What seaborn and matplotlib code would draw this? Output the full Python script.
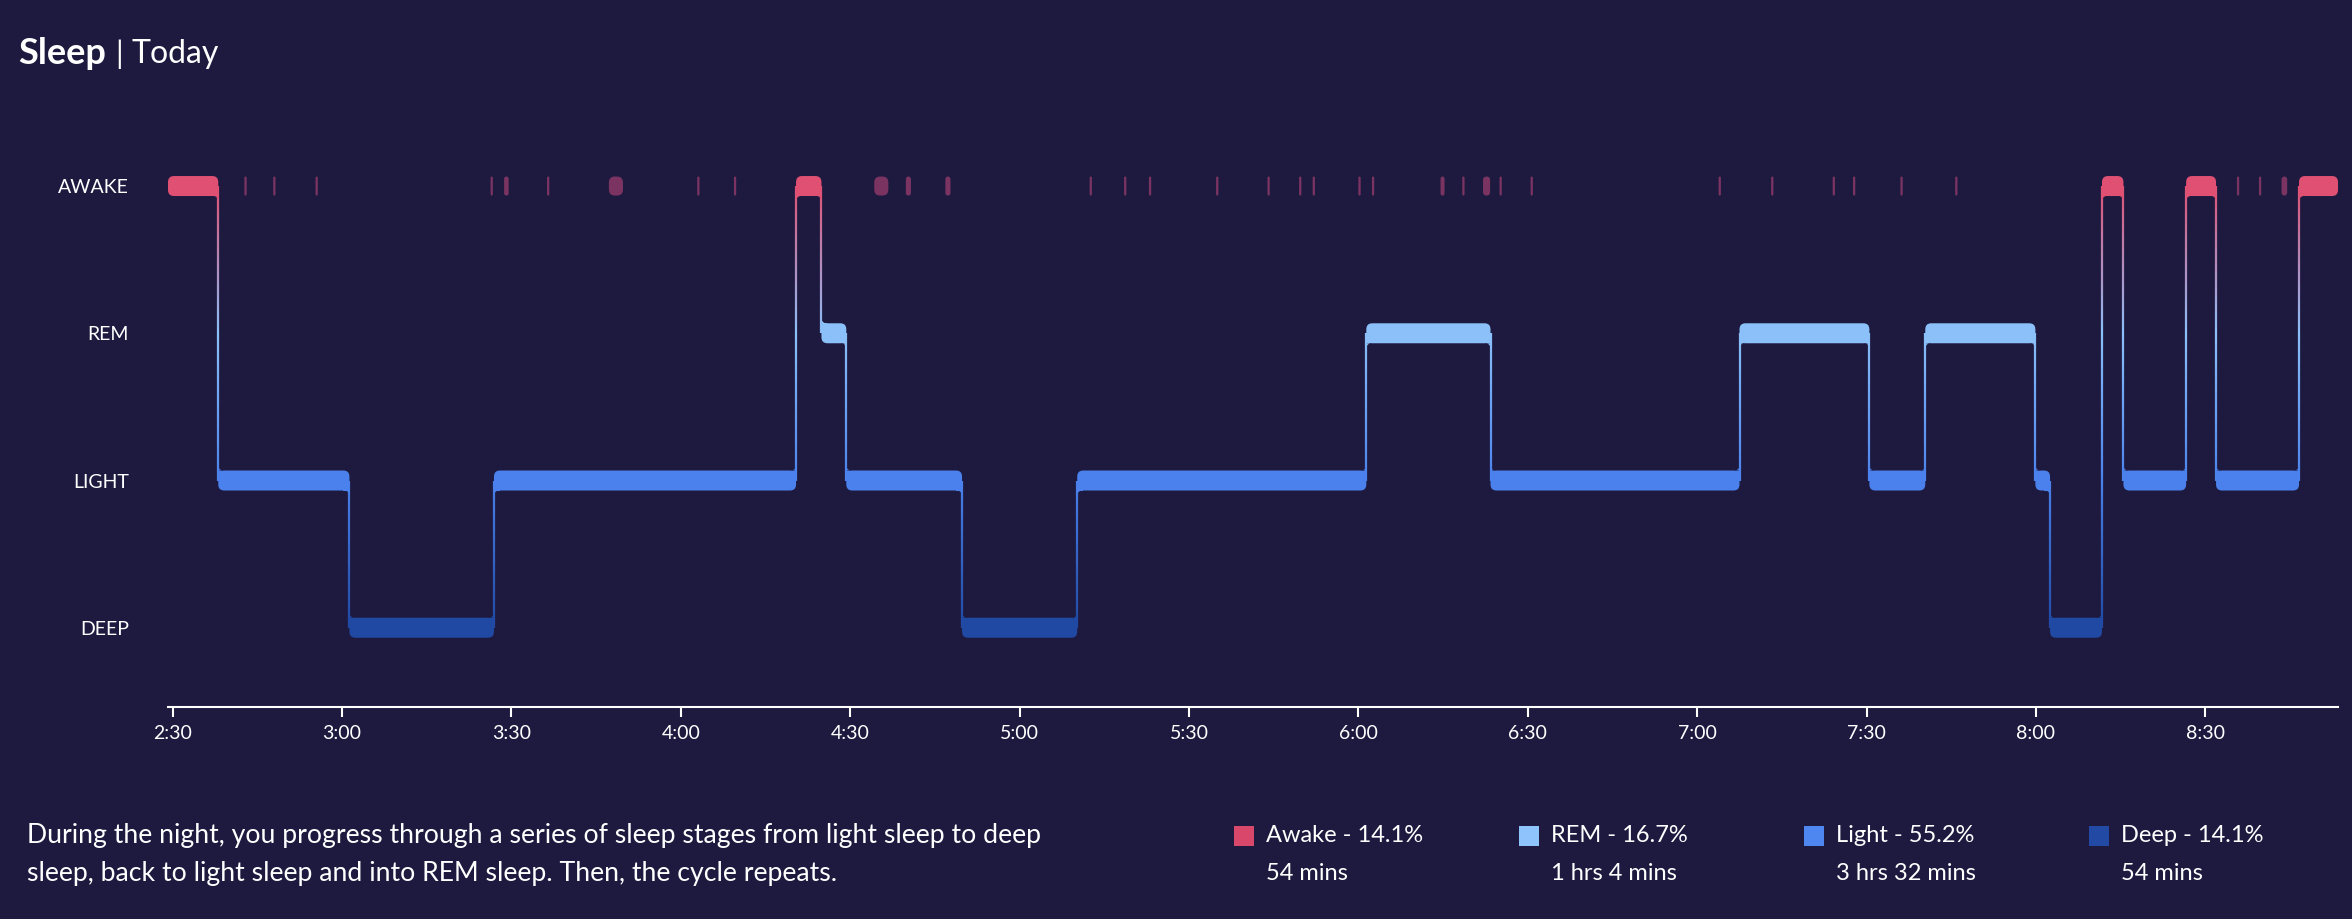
import numpy as np
import pandas as pd
import matplotlib
matplotlib.use("Agg")
import matplotlib.pyplot as plt
from matplotlib.patches import FancyBboxPatch, Rectangle, Polygon
from matplotlib.collections import LineCollection
import seaborn as sns

# Colores del tema
BG = "#1E1A3F"
sns.set_theme(style="dark", rc={"axes.facecolor": BG, "figure.facecolor": BG,
                                 "savefig.facecolor": BG, "axes.grid": False})
plt.rcParams["font.family"] = ["Lato", "DejaVu Sans"]

# Etapas y colores
stage_names = ["DEEP", "LIGHT", "REM", "AWAKE"]
stage_colors = ["#2049A3", "#4A81EC", "#8BC0F9", "#DF5073"]
wake_tick_color = "#7B3462"

# Segmentos principales (hora de inicio de cada etapa)
seg_stage = ["AWAKE", "LIGHT", "DEEP", "LIGHT", "AWAKE", "REM", "LIGHT", "DEEP",
             "LIGHT", "REM", "LIGHT", "REM", "LIGHT", "REM", "LIGHT", "DEEP",
             "AWAKE", "LIGHT", "AWAKE", "LIGHT", "AWAKE"]
seg_start = ["2:29:10", "2:38:04", "3:01:18", "3:26:54", "4:20:24", "4:24:54",
             "4:29:18", "4:49:48", "5:10:12", "6:01:24", "6:23:24", "7:07:30",
             "7:30:30", "7:40:24", "7:59:54", "8:02:30", "8:11:42", "8:15:30",
             "8:26:36", "8:31:54", "8:46:36"]
seg_end = "8:53:30"

# Despertares cortos (centro y duracion en minutos)
wake_mid = ["2:42:54", "2:48:00", "2:55:30", "3:26:30", "3:29:06", "3:36:30",
            "3:48:30", "4:03:06", "4:09:36", "4:35:30", "4:40:18", "4:47:18",
            "5:12:36", "5:18:42", "5:23:06", "5:35:00", "5:44:06", "5:49:42",
            "5:52:06", "6:00:12", "6:02:36", "6:14:54", "6:18:36", "6:22:42",
            "6:25:12", "6:30:42", "7:04:00", "7:13:18", "7:24:12", "7:27:48",
            "7:36:12", "7:45:54", "8:35:48", "8:39:42", "8:44:00"]
wake_len = [0.4, 0.4, 0.4, 0.4, 0.8, 0.4, 2.5, 0.4, 0.4, 2.5, 0.9, 0.9,
            0.4, 0.4, 0.4, 0.4, 0.4, 0.4, 0.4, 0.4, 0.4, 0.7, 0.4, 1.25,
            0.4, 0.4, 0.4, 0.4, 0.4, 0.4, 0.4, 0.4, 0.4, 0.4, 1.0]

# Resumen (leyenda)
legend_labels = ["Awake - 14.1%", "REM - 16.7%", "Light - 55.2%", "Deep - 14.1%"]
legend_durations = ["54 mins", "1 hrs 4 mins", "3 hrs 32 mins", "54 mins"]
legend_colors = ["#D9486B", "#8EC4FB", "#4D87EF", "#2249A3"]

tick_times = ["2:30", "3:00", "3:30", "4:00", "4:30", "5:00", "5:30",
              "6:00", "6:30", "7:00", "7:30", "8:00", "8:30"]

description = ["During the night, you progress through a series of sleep stages from light sleep to deep",
               "sleep, back to light sleep and into REM sleep. Then, the cycle repeats."]


def to_min(s):
    parts = [int(p) for p in s.split(":")]
    while len(parts) < 3:
        parts.append(0)
    return parts[0] * 60 + parts[1] + parts[2] / 60


level = {name: i for i, name in enumerate(stage_names)}
color = dict(zip(stage_names, stage_colors))

df = pd.DataFrame({"stage": seg_stage, "start": [to_min(s) for s in seg_start]})
df["end"] = list(df["start"].iloc[1:]) + [to_min(seg_end)]
df["level"] = df["stage"].map(level)

W, H = 2352, 919
fig = plt.figure(figsize=(W / 100, H / 100), dpi=100)
ax = fig.add_axes([168 / W, 0.2312, (2338 - 168) / W, 0.6625])
ax.set_xlim(df["start"].min(), df["end"].max())
ax.set_ylim(-0.535, 3.6)

# escala px por unidad para redondear esquinas
px_x = (ax.transData.transform((1, 0)) - ax.transData.transform((0, 0)))[0]
px_y = (ax.transData.transform((0, 1)) - ax.transData.transform((0, 0)))[1]
asp = px_x / px_y
hh = 10 / px_y
radius = 6 / px_x
fil_x, fil_y = 5 / px_x, 5 / px_y

# degradado continuo entre etapas (DEEP -> AWAKE)
grad = sns.blend_palette(stage_colors, 301)


def grad_color(y):
    return grad[int(round(np.clip(y, 0, 3) / 3 * 300))]


def rounded_bar(x0, x1, y, half, fc, z=3):
    w = x1 - x0
    r = min(radius, w / 2, (2 * half / asp) / 2)
    p = FancyBboxPatch((x0, y - half), w, 2 * half,
                       boxstyle=f"round,pad=0,rounding_size={r}",
                       mutation_aspect=asp, fc=fc, ec="none", zorder=z)
    ax.add_patch(p)


def joint(x_edge, y_edge, dx, dy, fc):
    # esquina recta dentro de la barra + curva concava hacia el conector
    ax.add_patch(Rectangle((x_edge, y_edge), dx * radius, -dy * 6 / px_y,
                           fc=fc, ec="none", zorder=3))
    phi = np.linspace(0, np.pi / 2, 20)
    cx, cy = x_edge + dx * fil_x, y_edge + dy * fil_y
    arc = np.column_stack([cx - dx * fil_x * np.sin(phi), cy - dy * fil_y * np.cos(phi)])
    pts = np.vstack([[x_edge, y_edge], arc])
    ax.add_patch(Polygon(pts, closed=True, fc=fc, ec="none", zorder=3))


# barras de cada etapa
for _, row in df.iterrows():
    rounded_bar(row["start"], row["end"], row["level"], hh, color[row["stage"]])

# conectores verticales con degradado
for i in range(len(df) - 1):
    t = df["end"].iloc[i]
    a, b = df["level"].iloc[i], df["level"].iloc[i + 1]
    ys = np.linspace(a, b, 120)
    segs = [[(t, ys[k]), (t, ys[k + 1])] for k in range(len(ys) - 1)]
    cols = [grad_color((ys[k] + ys[k + 1]) / 2) for k in range(len(ys) - 1)]
    ax.add_collection(LineCollection(segs, colors=cols, linewidths=1.6,
                                     zorder=2, capstyle="butt"))
    d = 1 if b > a else -1
    joint(t, a + d * hh, -1, d, color[df["stage"].iloc[i]])
    joint(t, b - d * hh, 1, -d, color[df["stage"].iloc[i + 1]])

# despertares cortos
for m, d in zip(wake_mid, wake_len):
    c = to_min(m)
    rounded_bar(c - d / 2, c + d / 2, level["AWAKE"], 0.95 * hh, wake_tick_color, z=1)

# ejes
ax.set_yticks(range(len(stage_names)))
ax.set_yticklabels(stage_names)
ax.set_xticks([to_min(t) for t in tick_times])
ax.set_xticklabels(tick_times)
ax.tick_params(axis="y", length=0, pad=28, labelsize=14, labelcolor="white")
ax.tick_params(axis="x", bottom=True, length=7, width=1.5, color="white",
               pad=6, labelsize=14, labelcolor="white")
sns.despine(ax=ax, left=True, top=True, right=True)
ax.spines["bottom"].set_color("white")
ax.spines["bottom"].set_linewidth(1.5)

# titulo
fig.text(18 / W, 1 - 54 / H, "Sleep", fontsize=26, fontweight="bold",
         color="white", va="center")
fig.text(115 / W, 1 - 54 / H, "|", fontsize=22, color="white", va="center")
fig.text(132 / W, 1 - 54 / H, "Today", fontsize=23, color="white", va="center")

# texto descriptivo
for k, line in enumerate(description):
    fig.text(27 / W, 1 - (835 + 39 * k) / H, line, fontsize=19.2,
             color="white", va="center")

# leyenda
sq_x = [1234, 1519, 1804, 2089]
for k in range(len(legend_labels)):
    fig.add_artist(Rectangle((sq_x[k] / W, 1 - 846 / H), 20 / W, 20 / H,
                             transform=fig.transFigure, fc=legend_colors[k], ec="none"))
    fig.text((sq_x[k] + 32) / W, 1 - 835 / H, legend_labels[k], fontsize=17,
             color="white", va="center")
    fig.text((sq_x[k] + 32) / W, 1 - 874 / H, legend_durations[k], fontsize=17,
             color="white", va="center")

fig.savefig("out.png", dpi=100, facecolor=BG)
